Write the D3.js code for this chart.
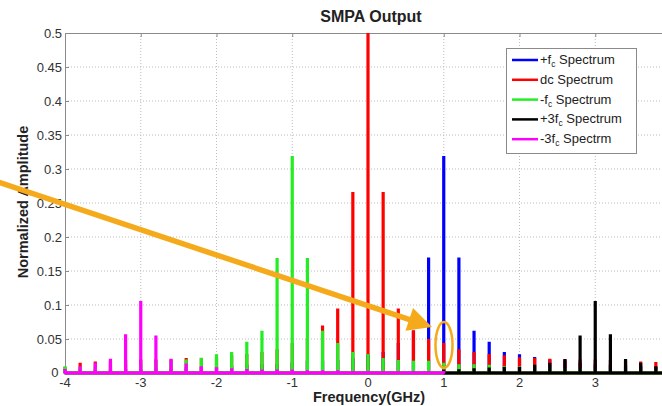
<!DOCTYPE html>
<html><head><meta charset="utf-8">
<script src="https://cdn.jsdelivr.net/npm/d3@7"></script>
<style>
html,body{margin:0;padding:0;background:#fff;overflow:hidden}
text{font-family:Arial,"Liberation Sans",sans-serif}
</style></head>
<body><svg id="c" width="662" height="406"></svg>
<script>
// Frequencies (GHz) of the spectral lines
const freqs = [-4.0,-3.8,-3.6,-3.4,-3.2,-3.0,-2.8,-2.6,-2.4,-2.2,-2.0,-1.8,-1.6,-1.4,-1.2,-1.0,-0.8,-0.6,-0.4,-0.2,
  0.0,0.2,0.4,0.6,0.8,1.0,1.2,1.4,1.6,1.8,2.0,2.2,2.4,2.6,2.8,3.0,3.2,3.4,3.6,3.8,4.0];
// +fc spectrum
const posFc = [0.005,0.005,0.005,0.005,0.006,0.006,0.007,0.007,0.008,0.009,0.0095,0.010,0.012,0.013,0.013,0.015,0.018,0.018,0.019,0.022,
  0.028,0.031,0.044,0.062,0.170,0.319,0.170,0.062,0.046,0.031,0.0275,0.0235,0.020,0.018,0.015,0.013,0.012,0.011,0.010,0.009,0.008];
// dc spectrum
const dcSpec = [0.009,0.015,0.017,0.018,0.019,0.020,0.020,0.020,0.022,0.022,0.023,0.026,0.028,0.031,0.035,0.044,0.050,0.070,0.095,0.266,
  0.500,0.266,0.095,0.063,0.050,0.044,0.035,0.031,0.028,0.026,0.023,0.022,0.021,0.020,0.020,0.020,0.019,0.018,0.017,0.016,0.015];
// -fc spectrum
const negFc = [0.010,0.009,0.010,0.011,0.012,0.013,0.015,0.018,0.020,0.0225,0.0275,0.031,0.046,0.062,0.169,0.319,0.169,0.062,0.044,0.031,
  0.028,0.022,0.019,0.018,0.018,0.015,0.013,0.013,0.012,0.010,0.0095,0.009,0.008,0.007,0.007,0.006,0.006,0.005,0.005,0.005,0.005];
// +3fc spectrum
const pos3Fc = [null,null,null,null,null,null,null,null,null,null,null,null,null,null,null,null,null,null,null,null,
  null,null,null,null,null,0.005,0.0055,0.007,0.008,0.009,0.009,0.012,0.015,0.0205,0.055,0.106,0.057,0.0205,0.015,0.010,0.008];
// -3fc spectrum
const neg3Fc = [0.006,0.010,0.015,0.021,0.057,0.106,0.055,0.021,0.014,0.010,0.0085,0.007,0.006,0.005,0.005,0.005,0.004,0.004,0.004,0.003,
  0.003,0.003,0.003,0.003,0.003,0.003,null,null,null,null,null,null,null,null,null,null,null,null,null,null,null];

const seriesNames = ["+f_c Spectrum","dc Spectrum","-f_c Spectrum","+3f_c Spectrum","-3f_c Spectrm"];
const seriesData = [posFc, dcSpec, negFc, pos3Fc, neg3Fc];
const seriesColors = ["#0000ff","#ff0000","#22ee22","#000000","#ff00ff"];
const xTicks = [-4,-3,-2,-1,0,1,2,3];
const yTicks = [0,0.05,0.1,0.15,0.2,0.25,0.3,0.35,0.4,0.45,0.5];

const svg = d3.select("#c");
const x = d3.scaleLinear().domain([-4,4]).range([65,671]);
const y = d3.scaleLinear().domain([0,0.5]).range([373,33]);

// grid
const grid = svg.append("g").attr("stroke","#bdbdbd").attr("stroke-width",1).attr("stroke-dasharray","1,2");
xTicks.filter(t=>t>-4).forEach(t=>grid.append("line").attr("x1",x(t)).attr("x2",x(t)).attr("y1",y(0)).attr("y2",y(0.5)));
yTicks.filter(t=>t>0&&t<0.5).forEach(t=>grid.append("line").attr("x1",x(-4)).attr("x2",662).attr("y1",y(t)).attr("y2",y(t)));

// axes frame
svg.append("line").attr("x1",x(-4)+0.5).attr("x2",x(-4)+0.5).attr("y1",y(0)).attr("y2",y(0.5)).attr("stroke","#8a8a8a");
svg.append("line").attr("x1",x(-4)).attr("x2",662).attr("y1",y(0.5)+0.5).attr("y2",y(0.5)+0.5).attr("stroke","#8a8a8a");
svg.append("line").attr("x1",x(-4)).attr("x2",662).attr("y1",y(0)+0.5).attr("y2",y(0)+0.5).attr("stroke","#8a8a8a");
// ticks
const tk = svg.append("g").attr("stroke","#8a8a8a");
yTicks.forEach(t=>tk.append("line").attr("x1",x(-4)).attr("x2",x(-4)+4).attr("y1",y(t)+0.5).attr("y2",y(t)+0.5));
xTicks.forEach(t=>{tk.append("line").attr("x1",x(t)+0.5).attr("x2",x(t)+0.5).attr("y1",y(0)).attr("y2",y(0)-4);
  tk.append("line").attr("x1",x(t)+0.5).attr("x2",x(t)+0.5).attr("y1",y(0.5)).attr("y2",y(0.5)+4);});

// tick labels
const fmt = d=> d===0? "0" : String(d);
svg.append("g").selectAll("text").data(yTicks).join("text")
  .attr("x",d=>d===0?58.5:62).attr("y",d=>y(d)+4.6-(d===0?1:0)).attr("text-anchor","end").attr("font-size",13).attr("fill","#333").text(fmt);
svg.append("g").selectAll("text").data(xTicks).join("text")
  .attr("x",d=>x(d)).attr("y",387).attr("text-anchor","middle").attr("font-size",13).attr("fill","#333").text(fmt);

// stems
const line = d3.line().x(d=>x(d[0])).y(d=>y(d[1]));
seriesData.forEach((vals,si)=>{
  const pts=[];
  freqs.forEach((f,i)=>{ if(vals[i]!=null){ pts.push([f,0],[f,vals[i]],[f,0]); } });
  svg.append("path").attr("d",line(pts)).attr("fill","none").attr("stroke",seriesColors[si])
    .attr("stroke-width",3.2).attr("stroke-linejoin","miter").attr("stroke-miterlimit",1);
});

// titles
svg.append("text").attr("x",371).attr("y",22).attr("text-anchor","middle").attr("font-size",16).attr("font-weight","bold").attr("fill","#222").text("SMPA Output");
svg.append("text").attr("x",369).attr("y",402).attr("text-anchor","middle").attr("font-size",14.5).attr("font-weight","bold").attr("fill","#222").text("Frequency(GHz)");
svg.append("text").attr("transform","translate(28,202) rotate(-90)").attr("text-anchor","middle").attr("font-size",14.5).attr("font-weight","bold").attr("fill","#222").text("Normalized Amplitude");

// legend
const lg = svg.append("g");
lg.append("rect").attr("x",506.5).attr("y",48.5).attr("width",130).attr("height",105).attr("fill","#fff").attr("stroke","#8a8a8a");
seriesNames.forEach((n,i)=>{
  const yy = 60 + i*19.8;
  lg.append("line").attr("x1",512).attr("x2",538).attr("y1",yy).attr("y2",yy).attr("stroke",seriesColors[i]).attr("stroke-width",2.5);
  const t = lg.append("text").attr("x",540).attr("y",yy+4).attr("font-size",13).attr("fill","#222");
  const parts = n.split("_c");
  if(parts.length>1){
    t.append("tspan").text(parts[0]);
    t.append("tspan").attr("font-size",8.5).attr("dy",3).text("c");
    t.append("tspan").attr("dy",-3).text(parts[1]);
  } else t.text(n);
});

// annotation arrow and ellipse
const orange = "#f5aa1c";
const p0=[-5,181], p1=[432,327];
const ang=Math.atan2(p1[1]-p0[1],p1[0]-p0[0]);
const L=24, Wd=12;
const bx=p1[0]-L*Math.cos(ang), by=p1[1]-L*Math.sin(ang);
svg.append("line").attr("x1",p0[0]).attr("y1",p0[1]).attr("x2",bx+2*Math.cos(ang)).attr("y2",by+2*Math.sin(ang)).attr("stroke",orange).attr("stroke-width",5.5);
svg.append("path").attr("d",`M${p1[0]},${p1[1]}L${bx-Wd*Math.sin(ang)},${by+Wd*Math.cos(ang)}L${bx+Wd*Math.sin(ang)},${by-Wd*Math.cos(ang)}Z`).attr("fill",orange);
svg.append("ellipse").attr("cx",444).attr("cy",345).attr("rx",8.5).attr("ry",23).attr("fill","none").attr("stroke",orange).attr("stroke-width",2.5);
</script>
</body></html>
